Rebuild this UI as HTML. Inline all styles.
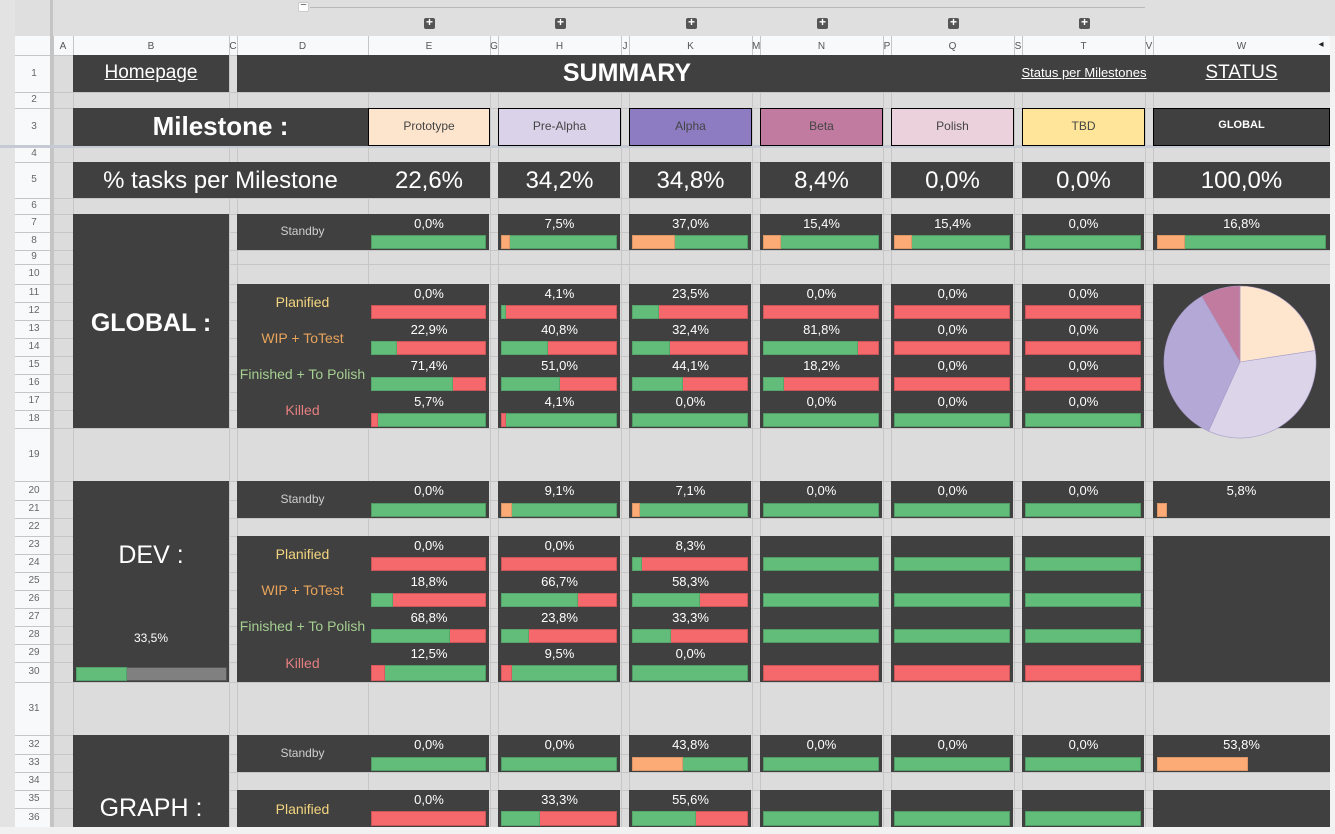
<!DOCTYPE html>
<html><head><meta charset="utf-8">
<style>
body{margin:0;width:1335px;height:834px;overflow:hidden;background:#dcdcdc;font-family:"Liberation Sans",sans-serif;position:relative}
.a{position:absolute;box-sizing:border-box}
.t{position:absolute;white-space:nowrap;text-align:center;color:#fff}
</style></head><body>
<div id="root"></div>
<script>
// ---- data ----
const milestones = ['Prototype','Pre-Alpha','Alpha','Beta','Polish','TBD'];
const taskShare = [22.6,34.2,34.8,8.4,0.0,0.0];
const taskShareTotal = 100.0;
const globalStandby = [0.0,7.5,37.0,15.4,15.4,0.0];
const globalStandbyTotal = 16.8;
const globalPlanified = [0.0,4.1,23.5,0.0,0.0,0.0];
const globalWip = [22.9,40.8,32.4,81.8,0.0,0.0];
const globalFinished = [71.4,51.0,44.1,18.2,0.0,0.0];
const globalKilled = [5.7,4.1,0.0,0.0,0.0,0.0];
const devStandby = [0.0,9.1,7.1,0.0,0.0,0.0];
const devStandbyTotal = 5.8;
const devPlanified = [0.0,0.0,8.3,null,null,null];
const devWip = [18.8,66.7,58.3,null,null,null];
const devFinished = [68.8,23.8,33.3,null,null,null];
const devKilled = [12.5,9.5,0.0,null,null,null];
const devProgress = 33.5;
const graphStandby = [0.0,0.0,43.8,0.0,0.0,0.0];
const graphStandbyTotal = 53.8;
const graphPlanified = [0.0,33.3,55.6,null,null,null];

// ---- layout ----
const root=document.getElementById('root');
const colLetters=['A','B','C','D','E','G','H','J','K','M','N','P','Q','S','T','V','W'];
const colX=[53,73,229,237,368,490,498,621,629,752,760,883,891,1014,1022,1145,1153,1330];
const rowY=[55,92,108,146,162,198,214,232,250,264,284,302,320,338,356,374,392,410,428,481,500,518,536,554,572,590,608,626,644,662,682,735,754,772,790,808,827];
const dataCols=[4,6,8,10,12,14];
const W=16;
const GREEN='#62bd7b',RED='#f5686b',ORANGE='#fcab76',DARK='#404040';
function rt(r){return rowY[r-1];}
function rb(r){return rowY[r];}
function box(x,y,w,h,bg,name,extra){const d=document.createElement('div');d.className='a';d.style.cssText=`left:${x}px;top:${y}px;width:${w}px;height:${h}px;background:${bg};${extra||''}`;


root.appendChild(d);return d;}
function txt(x,y,w,s,size,color,name,extra,inter){const d=document.createElement('div');d.className='t';d.style.cssText=`left:${x}px;top:${y}px;width:${w}px;font-size:${size}px;color:${color};${extra||''}`;d.textContent=s;


root.appendChild(d);return d;}
function fmt(v){return v.toFixed(1).replace('.',',')+'%';}

box(0,0,1335,36,'#dfdfdf','toolbar-strip');
box(0,36,1335,19,'#f8f9fa','column-header-row');
box(15,36,38,791,'#f8f9fa','row-header-column');
box(0,0,15,834,'#e3e3e3','left-margin');
box(310,7,835,1,'#b9b9b9','group-line');
const mb=box(298,2,11,10,'#fff','collapse-group-button','border:1px solid #ccc;border-radius:2px');

txt(298,-1,11,'−',11,'#555','collapse-symbol');
[429,560,691,822,953,1084].forEach((x,i)=>{const b=box(x-5,18,11,11,'#555','expand-group-button','border-radius:2px');

txt(x-5,15,11,'+',12,'#fff','expand-symbol','font-weight:bold');});
for(let i=0;i<colX.length;i++){box(colX[i],36,1,791,'#c6c6c6','col-gridline');}
for(let c=0;c<colLetters.length;c++){txt(colX[c],41,colX[c+1]-colX[c],colLetters[c],10,'#555','column-letter-'+colLetters[c].toLowerCase());}
box(15,55,1,772,'#c6c6c6','row-header-edge');
for(let r=0;r<rowY.length;r++){box(15,rowY[r],1320,1,'#c6c6c6','row-gridline');}
box(15,55,38,772,'#f8f9fa','row-header-bg');
for(let r=0;r<rowY.length;r++){box(15,rowY[r],38,1,'#c6c6c6','row-header-line');}
for(let r=1;r<=36;r++){const h=rb(r)-rt(r);txt(15,rt(r)+h/2-6,38,String(r),10,'#666','row-number-'+r);}
box(50,0,3,834,'#c4c4c4','frozen-column-divider');
box(0,145,1335,3,'#c5cad3','frozen-row-divider');
box(1330,36,5,791,'#f3f3f3','right-edge');
txt(1314,39,14,'◂',10,'#222','scroll-arrow');
box(0,827,1335,7,'#f1f1f1','bottom-strip');

box(73,55,156,37,DARK,'homepage-cell');
txt(73,62,156,'Homepage',19,'#fff','homepage-link','text-decoration:underline',true);
box(237,55,1093,37,DARK,'title-bar');
txt(237,59,780,'SUMMARY',25,'#fff','summary-title','font-weight:bold');
txt(1014,65,140,'Status per Milestones',13,'#fff','status-per-milestones-link','text-decoration:underline',true);
txt(1153,62,177,'STATUS',19,'#fff','status-link','text-decoration:underline',true);
box(73,108,295,38,DARK,'milestone-label-cell');
txt(73,111,295,'Milestone :',26,'#fff','milestone-label','font-weight:bold');
const headColors=['#fde5cd','#d9d2e9','#8e7cc3','#c27ba0','#ead1dc','#ffe599'];
dataCols.forEach((c,i)=>{box(colX[c],108,colX[c+1]-colX[c],38,headColors[i],'milestone-header-'+milestones[i].toLowerCase(),'border:1px solid #000');
txt(colX[c],119,colX[c+1]-colX[c],milestones[i],12,'#444','milestone-name-'+milestones[i].toLowerCase());});
box(colX[W],108,colX[W+1]-colX[W],38,DARK,'global-header','border:1px solid #000');
txt(colX[W],119,colX[W+1]-colX[W],'GLOBAL',11,'#fff','global-header-text','font-weight:bold');
box(73,162,417,36,DARK,'tasks-per-milestone-row');
txt(73,167,295,'% tasks per Milestone',24,'#fff','tasks-per-milestone-label');
dataCols.forEach((c,i)=>{if(i>0)box(colX[c],162,colX[c+1]-colX[c]-1,36,DARK,'task-share-cell');
txt(colX[c],167,colX[c+1]-colX[c],fmt(taskShare[i]),24,'#fff','task-share-'+milestones[i].toLowerCase());});
box(colX[W],162,colX[W+1]-colX[W],36,DARK,'task-share-total-cell');
txt(colX[W],167,colX[W+1]-colX[W],fmt(taskShareTotal),24,'#fff','task-share-total');

function blocks(r1,r2,name){
  dataCols.forEach((c,i)=>{const x=i===0?237:colX[c];box(x,rt(r1),colX[c+1]-x-1,rb(r2)-rt(r1),DARK,name+'-block');});
  box(colX[W],rt(r1),colX[W+1]-colX[W],rb(r2)-rt(r1),DARK,name+'-global-block');
}
function bar(x,y,w,h,v,mode,name){
  const leftC={os:ORANGE,gr:GREEN,rg:RED,o:ORANGE}[mode], rightC={os:GREEN,gr:RED,rg:GREEN,o:null}[mode];
  if(rightC)box(x,y,w,h,rightC,name+'-track','border:1px solid rgba(0,0,0,0.18)');
  if(v>0)box(x,y,w*v/100,h,leftC,name+'-fill','border:1px solid rgba(0,0,0,0.12)');
}
function statusRow(r,vals,mode,label,lcolor,nullMode,total,totalMode){
  const h=rb(r+1)-rt(r);
  txt(237,rt(r)+h/2-8,131,label,label==='Standby'?12:14,lcolor,'status-label-'+label.toLowerCase().replace(/[^a-z]+/g,'-'));
  dataCols.forEach((c,i)=>{const x=colX[c]+3,w=colX[c+1]-colX[c]-7;const v=vals[i];const nm='bar-'+label.toLowerCase().replace(/[^a-z]+/g,'-')+'-'+milestones[i].toLowerCase();
    if(v===null){box(x,rt(r+1)+3,w,rb(r+1)-rt(r+1)-4,nullMode,nm,'border:1px solid rgba(0,0,0,0.18)');return;}
    txt(colX[c],rt(r)+2,colX[c+1]-colX[c],fmt(v),13,'#fff',nm+'-value');
    bar(x,rt(r+1)+3,w,rb(r+1)-rt(r+1)-4,v,mode,nm);});
  if(total!==undefined){const c=W;txt(colX[c],rt(r)+2,colX[c+1]-colX[c],fmt(total),13,'#fff','bar-total-value');
    bar(colX[c]+4,rt(r+1)+3,colX[c+1]-colX[c]-8,rb(r+1)-rt(r+1)-4,total,totalMode,'bar-total');}
}
const LC={st:'#cfcfcf',pl:'#f3d57f',wip:'#e9a35a',fin:'#a4cf90',kill:'#e57f80'};
box(73,rt(7),156,rb(18)-rt(7),DARK,'global-section-label-cell');
txt(73,309,156,'GLOBAL :',25,'#fff','global-section-title','font-weight:bold');
blocks(7,8,'global-standby');blocks(11,18,'global-status');
statusRow(7,globalStandby,'os','Standby',LC.st,GREEN,globalStandbyTotal,'os');
statusRow(11,globalPlanified,'gr','Planified',LC.pl,GREEN);
statusRow(13,globalWip,'gr','WIP + ToTest',LC.wip,GREEN);
statusRow(15,globalFinished,'gr','Finished + To Polish',LC.fin,GREEN);
statusRow(17,globalKilled,'rg','Killed',LC.kill,RED);
box(73,rt(20),156,rb(30)-rt(20),DARK,'dev-section-label-cell');
txt(73,541,156,'DEV :',25,'#fff','dev-section-title');
txt(73,631,156,fmt(devProgress),12,'#fff','dev-progress-value');
box(76,667,151,14,'#808080','dev-progress-track','border:1px solid #555');
box(76,667,151*devProgress/100,14,GREEN,'dev-progress-fill','border:1px solid rgba(0,0,0,0.15)');
blocks(20,21,'dev-standby');blocks(23,30,'dev-status');
statusRow(20,devStandby,'os','Standby',LC.st,GREEN,devStandbyTotal,'o');
statusRow(23,devPlanified,'gr','Planified',LC.pl,GREEN);
statusRow(25,devWip,'gr','WIP + ToTest',LC.wip,GREEN);
statusRow(27,devFinished,'gr','Finished + To Polish',LC.fin,GREEN);
statusRow(29,devKilled,'rg','Killed',LC.kill,RED);
box(73,rt(32),156,827-rt(32),DARK,'graph-section-label-cell');
txt(73,794,156,'GRAPH :',25,'#fff','graph-section-title');
blocks(32,33,'graph-standby');blocks(35,36,'graph-status');
statusRow(32,graphStandby,'os','Standby',LC.st,GREEN,graphStandbyTotal,'o');
statusRow(35,graphPlanified,'gr','Planified',LC.pl,GREEN);

const pieColors=['#fde6cd','#dcd5ea','#b4a8d7','#c07b9f','#ead1dc','#ffe599'];
const NS='http://www.w3.org/2000/svg';
const svg=document.createElementNS(NS,'svg');
svg.setAttribute('width','1335');svg.setAttribute('height','834');
svg.style.cssText='position:absolute;left:0;top:0;pointer-events:none';


const cx=1240,cy=362,R=76;
const tot=taskShare.reduce((a,b)=>a+b,0);let ang=-Math.PI/2;
taskShare.forEach((v,i)=>{if(v<=0)return;const a2=ang+v/tot*2*Math.PI;
  const p=document.createElementNS(NS,'path');
  const x1=cx+R*Math.cos(ang),y1=cy+R*Math.sin(ang),x2=cx+R*Math.cos(a2),y2=cy+R*Math.sin(a2);
  p.setAttribute('d',`M${cx},${cy} L${x1},${y1} A${R},${R} 0 ${a2-ang>Math.PI?1:0} 1 ${x2},${y2} Z`);
  p.setAttribute('fill',pieColors[i]);p.setAttribute('stroke','#a99cc8');p.setAttribute('stroke-width','0.6');
  
  
  svg.appendChild(p);ang=a2;});
root.appendChild(svg);
</script>
</body></html>
